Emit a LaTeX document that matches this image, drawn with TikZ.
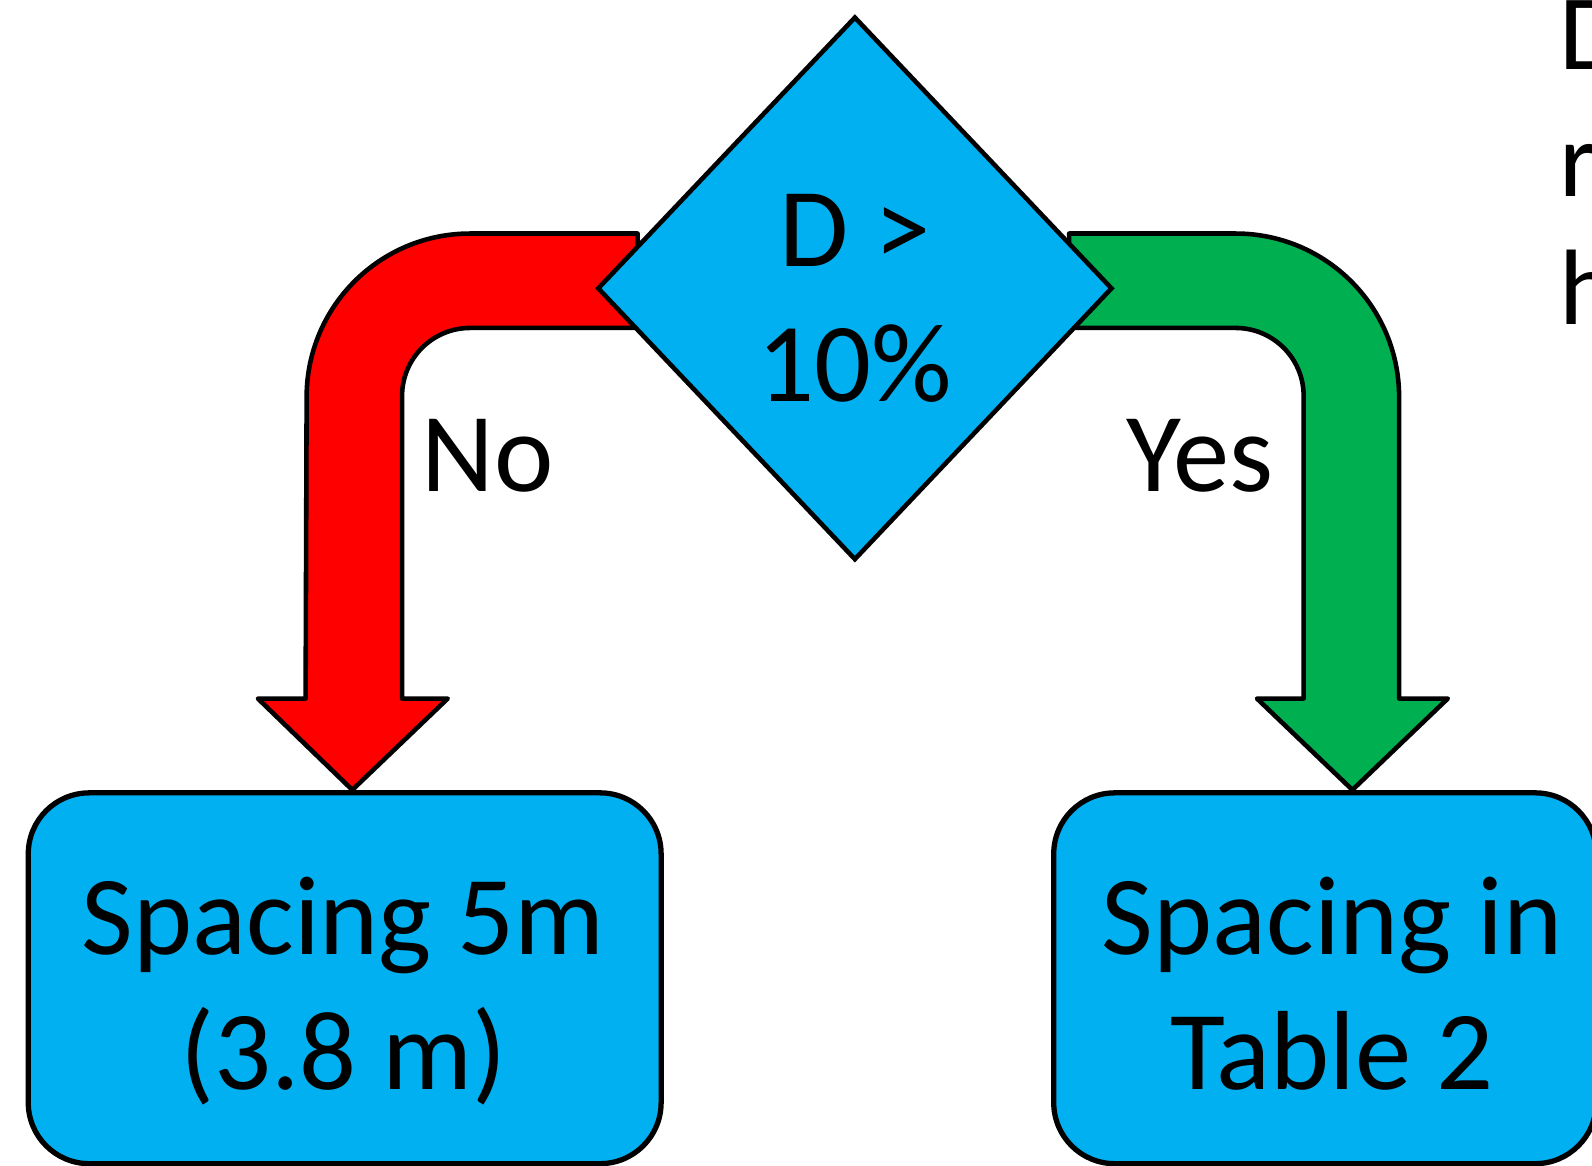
\documentclass[tikz,border=0pt]{standalone}
\usepackage{fontspec}
\setmainfont{Carlito}
\usepackage{xcolor}
\usetikzlibrary{positioning, shapes.geometric, backgrounds}

\definecolor{flowBlue}{HTML}{00B0F0}
\definecolor{noRed}{HTML}{FF0000}
\definecolor{yesGreen}{HTML}{00B050}
\newcommand{\flowfont}{\fontsize{32}{38.4}\selectfont}
\newcommand{\notefont}{\fontsize{30.5}{36.6}\selectfont}

\begin{document}
\begin{tikzpicture}[
        % Define styles for consistency
        x=0.0101531cm, y=-0.0101531cm,
        decision/.style={diamond, draw=black, fill=flowBlue, line width=1.3pt, inner sep=0pt,
            minimum width=5.148cm, minimum height=5.432cm},
        outcome/.style={rectangle, rounded corners=0.61cm, draw=black, fill=flowBlue, line width=1.5pt,
            minimum width=6.325cm, minimum height=3.706cm},
        boxtext/.style={font=\flowfont, inner sep=0pt, align=center},
        bentarrow/.style={draw=black, line width=1.3pt, line join=round},
        branchtext/.style={font=\flowfont, inner sep=0pt},
        notetext/.style={font=\notefont, inner sep=0pt, anchor=base west}
    ]

        % --- Frame ---
        \useasboundingbox (0,0) rectangle (1568,1148.4);
        \clip (0,0) rectangle (1568,1148.4);

        % --- Nodes ---
        % Decision
        \node[decision] (test) at (842,284) {};
        \node[boxtext] (testtext) at (842,302) {D >\strut\\10\%\strut};

        % Outcomes
        \node[outcome] (nobox) at (339.5,963.5) {};
        \node[outcome, minimum width=5.422cm] (yesbox) at (1305,963.5) {};
        \node[boxtext] (notext) at (338,980) {Spacing 5m\strut\\(3.8 m)\strut};
        \node[boxtext] (yestext) at (1312,980) {Spacing in\strut\\Table 2\strut};

        % Branch labels
        \node[branchtext] (nolabel) at (480,449) {No};
        \node[branchtext] (yeslabel) at (1182,449) {Yes};

        % Cut-off note at the right
        \node[notetext] (noteD) at (1535,68) {D};
        \node[notetext] (noteR) at (1535,194) {r};
        \node[notetext] (noteH) at (1535,320) {h};

        % --- Draw Arrows (behind the nodes) ---
        \begin{scope}[on background layer]
        % No branch
        \draw[bentarrow, fill=noRed] (628,230) -- (463,230)
            arc[start angle=270, end angle=180, radius=161] -- (301,688) -- (254,688)
            -- (347,778) -- (441,688) -- (396,688) -- (396,390)
            arc[start angle=180, end angle=270, radius=67] -- (628,323) -- cycle;

        % Yes branch
        \draw[bentarrow, fill=yesGreen] (1053,230) -- (1217,230)
            arc[start angle=270, end angle=360, radius=161] -- (1378,688) -- (1426,688)
            -- (1332,778) -- (1238,688) -- (1284,688) -- (1284,390)
            arc[start angle=0, end angle=-90, radius=67] -- (1053,323) -- cycle;
        \end{scope}

    \end{tikzpicture}
\end{document}
